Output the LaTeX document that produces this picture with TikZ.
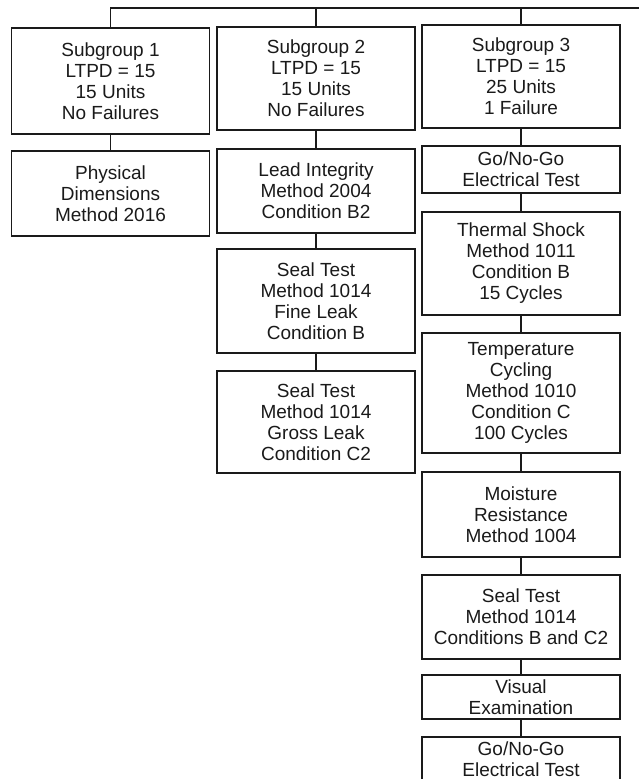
\documentclass[tikz,border=0pt]{standalone}
\usepackage{fontspec}
\setmainfont{Liberation Sans}
\usepackage{xcolor}
\definecolor{InkBase}{HTML}{1A1A1A}

\begin{document}
\begin{tikzpicture}[x=1pt, y=-1pt,
  testbox/.style={draw=InkBase, line width=1.3pt, align=center, inner sep=0pt, outer sep=0pt,
    minimum width=198pt, text=InkBase, font=\fontsize{19}{21}\selectfont},
  link/.style={draw=InkBase, line width=1.3pt}]

  % Bildausschnitt
  \useasboundingbox (0,0) rectangle (639,779);
  \clip (0,0) rectangle (639,779);

  % Makro für einheitliche Prüfkästen
  % Parameter: 1=Name, 2=x-Mitte, 3=Oberkante, 4=Unterkante, 5=Text
  \def\testbox#1#2#3#4#5{
    \node[testbox, minimum height={#4-#3}] (#1) at (#2,{(#3+#4)/2}) {#5};
  }

  % Untergruppen
  \testbox{sgA}{110.5}{28}{134}{Subgroup 1\\LTPD = 15\\15 Units\\No Failures}
  \testbox{sgB}{316}{27}{130}{Subgroup 2\\LTPD = 15\\15 Units\\No Failures}
  \testbox{sgC}{521}{25}{128}{Subgroup 3\\LTPD = 15\\25 Units\\1 Failure}

  % Spalte 1
  \testbox{physDim}{110.5}{151}{236}{Physical\\Dimensions\\Method 2016}

  % Spalte 2
  \testbox{leadInt}{316}{149}{233}{Lead Integrity\\Method 2004\\Condition B2}
  \testbox{sealFine}{316}{249}{353}{Seal Test\\Method 1014\\Fine Leak\\Condition B}
  \testbox{sealGross}{316}{371}{473}{Seal Test\\Method 1014\\Gross Leak\\Condition C2}

  % Spalte 3
  \testbox{elecA}{521}{146}{193}{Go/No-Go\\Electrical Test}
  \testbox{thermShock}{521}{212}{315}{Thermal Shock\\Method 1011\\Condition B\\15 Cycles}
  \testbox{tempCyc}{521}{333}{453}{Temperature\\Cycling\\Method 1010\\Condition C\\100 Cycles}
  \testbox{moist}{521}{472}{557}{Moisture\\Resistance\\Method 1004}
  \testbox{sealBoth}{521}{575}{659}{Seal Test\\Method 1014\\Conditions B and C2}
  \testbox{visual}{521}{675}{719}{Visual\\Examination}
  \testbox{elecB}{521}{737}{781}{Go/No-Go\\Electrical Test}

  % Sammelleitung oben
  \coordinate (busR) at (639,8);
  \draw[link] (sgA.north) |- (busR);
  \draw[link] (sgB.north) -- (sgB.north |- busR);
  \draw[link] (sgC.north) -- (sgC.north |- busR);

  % Verbindungen
  \draw[link] (sgA) -- (physDim);
  \draw[link] (sgB) -- (leadInt);
  \draw[link] (leadInt) -- (sealFine);
  \draw[link] (sealFine) -- (sealGross);
  \draw[link] (sgC) -- (elecA);
  \draw[link] (elecA) -- (thermShock);
  \draw[link] (thermShock) -- (tempCyc);
  \draw[link] (tempCyc) -- (moist);
  \draw[link] (moist) -- (sealBoth);
  \draw[link] (sealBoth) -- (visual);
  \draw[link] (visual) -- (elecB);

\end{tikzpicture}
\end{document}
